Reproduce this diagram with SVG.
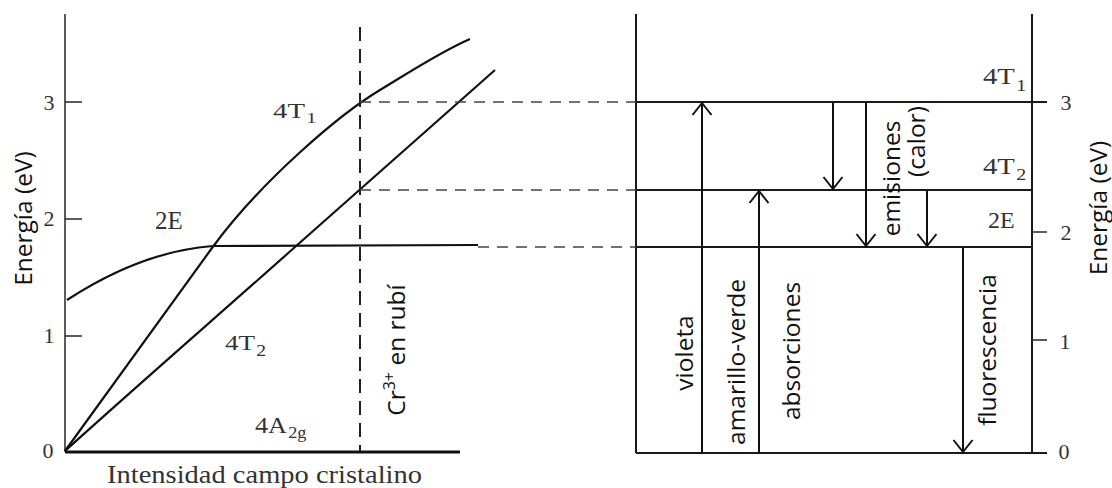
<svg xmlns="http://www.w3.org/2000/svg" width="1112" height="488" viewBox="0 0 1112 488">
<style>
.ln{stroke:#1a1a1a;stroke-width:2;fill:none}
.ax{stroke:#333;stroke-width:1.6;fill:none}
.cv{stroke:#111;stroke-width:2.2;fill:none;stroke-linejoin:round}
.dh{stroke:#444;stroke-width:1.6;fill:none;stroke-dasharray:11 8}
.dv{stroke:#222;stroke-width:2;fill:none;stroke-dasharray:14 8}
.ar{stroke:#111;stroke-width:2;fill:none}
.sans{font-family:"Open Sans","Liberation Sans",sans-serif;font-size:24.5px;fill:#111}
.ser{font-family:"Liberation Serif","DejaVu Serif",serif;fill:#333}
.tk{font-family:"Liberation Serif","DejaVu Serif",serif;font-size:22px;fill:#333;text-anchor:middle}
</style>
<defs>
<marker id="head" markerUnits="userSpaceOnUse" viewBox="-14 -12 16 24" refX="0" refY="0" markerWidth="16" markerHeight="24" orient="auto">
<path d="M-12,-9.5 L0,0 L-12,9.5" fill="none" stroke="#111" stroke-width="2"/>
</marker>
</defs>
<rect width="1112" height="488" fill="#fff"/>

<g id="left-axes">
<line class="ax" x1="65" y1="14" x2="65" y2="452"/>
<line x1="65" y1="452" x2="460" y2="452" stroke="#111" stroke-width="3"/>
<line class="ax" x1="65" y1="102" x2="82" y2="102"/>
<line class="ax" x1="65" y1="219" x2="82" y2="219"/>
<line class="ax" x1="65" y1="336" x2="82" y2="336"/>
<text class="tk" x="49" y="110">3</text>
<text class="tk" x="49" y="226">2</text>
<text class="tk" x="49" y="343">1</text>
<text class="tk" x="48" y="458">0</text>
<text class="sans" transform="translate(32 218.5) rotate(-90)" text-anchor="middle">Energía (eV)</text>
<text class="ser" x="107" y="483" font-size="25" textLength="315" lengthAdjust="spacingAndGlyphs">Intensidad campo cristalino</text>
</g>

<g id="curve-4T1">
<path class="cv" d="M65,451 L212,248 C262,180 340,114 380,90 C410,72 440,52 470,39"/>
<text class="ser" font-size="21" transform="translate(273 118) scale(1.37 1)">4T<tspan font-size="15" dx="1" dy="5">1</tspan></text>
</g>

<g id="curve-4T2">
<path class="cv" d="M65,451 C130,392 230,305 295,247 L495,70"/>
<text class="ser" font-size="22" transform="translate(225 350) scale(1.23 1)">4T<tspan font-size="16" dx="1" dy="6">2</tspan></text>
</g>

<g id="curve-2E">
<path class="cv" d="M67,300 C110,272 160,250 213,246 L478,245"/>
<text class="ser" font-size="25" x="155" y="229">2E</text>
</g>

<g id="ground-4A2g">
<text class="ser" font-size="23" transform="translate(255 433) scale(1.14 1)">4A<tspan font-size="16" dx="1" dy="5">2g</tspan></text>
</g>

<g id="ruby-marker">
<line class="dv" x1="360" y1="27" x2="360" y2="451"/>
<text class="sans" transform="translate(405 350) rotate(-90)" text-anchor="middle">Cr<tspan font-size="16" dy="-10">3+</tspan><tspan dy="10"> en rubí</tspan></text>
</g>

<g id="right-panel">
<line class="ln" x1="636" y1="14" x2="636" y2="453"/>
<line class="ln" x1="1032" y1="14" x2="1032" y2="453"/>
<line class="ln" x1="636" y1="453" x2="1047" y2="453"/>
<line class="ax" x1="1032" y1="232" x2="1047" y2="232"/>
<line class="ax" x1="1032" y1="340" x2="1047" y2="340"/>
<text class="tk" x="1066" y="110">3</text>
<text class="tk" x="1066" y="240">2</text>
<text class="tk" x="1065" y="349">1</text>
<text class="tk" x="1064" y="459">0</text>
<text class="sans" transform="translate(1107 208) rotate(-90)" text-anchor="middle">Energía (eV)</text>
</g>

<g id="level-4T1">
<line class="ln" x1="636" y1="102" x2="1047" y2="102"/>
<text class="ser" font-size="23" transform="translate(983 84) scale(1.25 1)">4T<tspan font-size="16" dx="1" dy="7">1</tspan></text>
</g>

<g id="level-4T2">
<line class="ln" x1="636" y1="190" x2="1032" y2="190"/>
<text class="ser" font-size="23" transform="translate(983 174) scale(1.25 1)">4T<tspan font-size="16" dx="1" dy="6">2</tspan></text>
</g>

<g id="level-2E">
<line class="ln" x1="636" y1="247" x2="1032" y2="247"/>
<text class="ser" font-size="24" x="988" y="228">2E</text>
</g>

<g id="connectors">
<line class="dh" x1="360" y1="102" x2="636" y2="102"/>
<line class="dh" x1="360" y1="190" x2="636" y2="190"/>
<line class="dh" x1="478" y1="247" x2="636" y2="247"/>
<line class="ar" x1="702" y1="453" x2="702" y2="103" marker-end="url(#head)"/>
<line class="ar" x1="759" y1="453" x2="759" y2="191" marker-end="url(#head)"/>
<line class="ar" x1="833" y1="102" x2="833" y2="189" marker-end="url(#head)"/>
<line class="ar" x1="866" y1="102" x2="866" y2="246" marker-end="url(#head)"/>
<line class="ar" x1="927" y1="190" x2="927" y2="246" marker-end="url(#head)"/>
<line class="ar" x1="963" y1="247" x2="963" y2="452" marker-end="url(#head)"/>
</g>

<g id="labels-right">
<text class="sans" transform="translate(693 353) rotate(-90)" text-anchor="middle">violeta</text>
<text class="sans" transform="translate(745 362) rotate(-90)" text-anchor="middle">amarillo-verde</text>
<text class="sans" transform="translate(800 351) rotate(-90)" text-anchor="middle">absorciones</text>
<text class="sans" transform="translate(900 178.5) rotate(-90)" text-anchor="middle">emisiones</text>
<text class="sans" transform="translate(925 141.5) rotate(-90)" text-anchor="middle">(calor)</text>
<text class="sans" transform="translate(996 350) rotate(-90)" text-anchor="middle">fluorescencia</text>
</g>
</svg>
